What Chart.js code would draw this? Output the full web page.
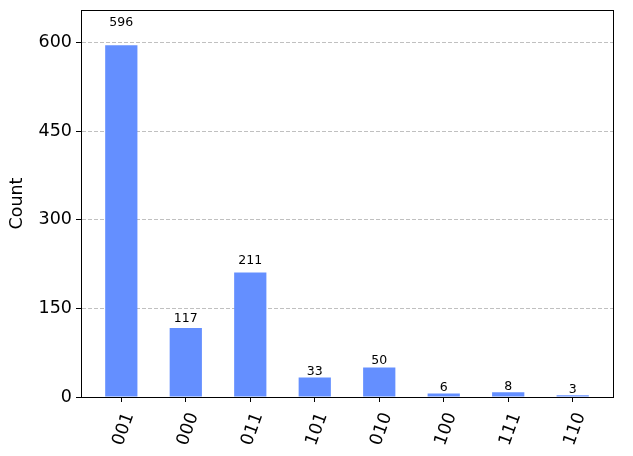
<!DOCTYPE html>
<html>
<head>
<meta charset="utf-8">
<script src="https://cdn.jsdelivr.net/npm/chart.js@4"></script>
<style>
html,body{margin:0;padding:0;background:#fff;}
#wrap{width:633px;height:456px;}
</style>
</head>
<body>
<div id="wrap"><canvas id="c" width="633" height="456"></canvas></div>
<script>
const categories = ["001","000","011","101","010","100","111","110"];
const counts = [596,117,211,33,50,6,8,3];
const yTicks = [0,150,300,450,600];

const FONT = "'DejaVu Sans', sans-serif";
const yMax = Math.max(...counts) * 1.1;

const framePlugin = {
  id: 'frame',
  afterDraw(chart) {
    const {ctx, chartArea: a} = chart;
    ctx.save();
    ctx.strokeStyle = '#000';
    ctx.lineWidth = 1;
    ctx.strokeRect(Math.round(a.left)+0.5, Math.round(a.top)+0.5, Math.round(a.right-a.left), Math.round(a.bottom-a.top));
    ctx.restore();
  }
};
const valuePlugin = {
  id: 'values',
  afterDatasetsDraw(chart) {
    const {ctx, scales} = chart;
    ctx.save();
    ctx.fillStyle = '#000';
    ctx.font = "12.5px " + FONT;
    ctx.textAlign = 'center';
    ctx.textBaseline = 'bottom';
    counts.forEach((v, i) => {
      const x = scales.x.getPixelForValue(i);
      const y = scales.y.getPixelForValue(v * 1.05);
      ctx.fillText(String(v), x, y + 1);
    });
    ctx.restore();
  }
};

new Chart(document.getElementById('c'), {
  type: 'bar',
  data: {
    datasets: [{
      data: counts.map((v, i) => ({x: i, y: v})),
      backgroundColor: '#648fff',
      borderWidth: 0,
      categoryPercentage: 1,
      barPercentage: 0.5
    }]
  },
  options: {
    responsive: false,
    animation: false,
    devicePixelRatio: 1,
    layout: {padding: {top: 10, right: 20, left: 0, bottom: 0}},
    plugins: {legend: {display: false}, tooltip: {enabled: false}},
    scales: {
      x: {
        type: 'linear',
        min: -0.625,
        max: categories.length - 1 + 0.625,
        offset: false,
        afterBuildTicks(s) { s.ticks = categories.map((_, i) => ({value: i})); },
        afterFit(s) { s.height = 59; s.paddingLeft = 0; s.paddingRight = 0; },
        grid: {offset: false, drawOnChartArea: false, tickLength: 5, tickColor: '#000', tickWidth: 1},
        border: {display: true, color: '#000'},
        ticks: {
          autoSkip: false,
          maxRotation: 70, minRotation: 70,
          color: '#000',
          padding: 8,
          labelOffset: 8,
          font: {family: FONT, size: 17.5},
          callback: (v) => categories[v]
        }
      },
      y: {
        type: 'linear',
        min: 0,
        max: yMax,
        afterBuildTicks(s) { s.ticks = yTicks.map(v => ({value: v})); },
        afterFit(s) { s.width = 81; s.paddingTop = 0; s.paddingBottom = 0; },
        grid: {color: '#b0b0b0', tickLength: 5, tickColor: '#000', tickBorderDash: [], tickWidth: 1, lineWidth: 0.8},
        border: {display: true, color: '#000', dash: [4, 2]},
        title: {display: true, text: 'Count', color: '#000', font: {family: FONT, size: 17.5}, padding: {top: 7, bottom: 4}},
        ticks: {color: '#000', padding: 4, font: {family: FONT, size: 17.5}}
      }
    }
  },
  plugins: [framePlugin, valuePlugin]
});
</script>
</body>
</html>
